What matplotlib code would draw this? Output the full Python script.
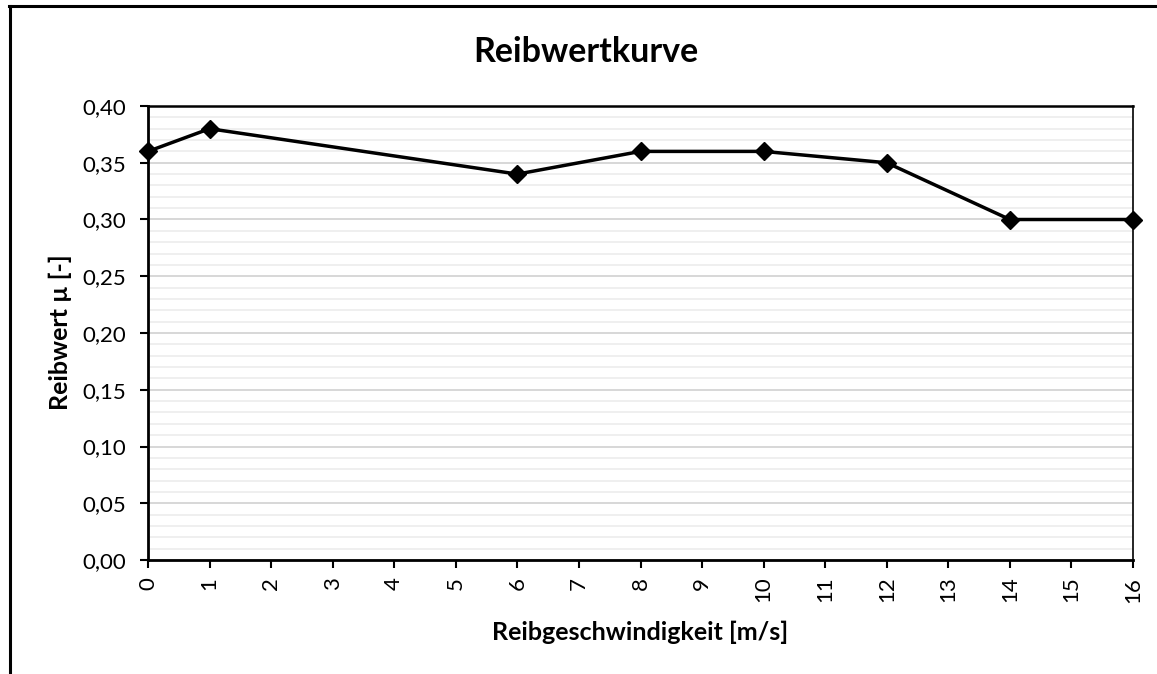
import matplotlib
matplotlib.use("Agg")
import matplotlib.pyplot as plt
from matplotlib.ticker import MultipleLocator, FuncFormatter
from matplotlib.lines import Line2D

speed = [0, 1, 6, 8, 10, 12, 14, 16]
mu = [0.36, 0.38, 0.34, 0.36, 0.36, 0.35, 0.30, 0.30]
x_ticks = list(range(0, 17))

plt.rcParams['font.family'] = ['Lato', 'DejaVu Sans']

fig = plt.figure(figsize=(11.57, 6.74), dpi=100)
ax = fig.add_axes([148/1157, 1-560/674, (1133-148)/1157, (560-106)/674])

ax.set_xlim(0, 16)
ax.set_ylim(0, 0.40)
ax.yaxis.set_major_locator(MultipleLocator(0.05))
ax.yaxis.set_minor_locator(MultipleLocator(0.01))
ax.yaxis.set_major_formatter(FuncFormatter(lambda v, p: f"{v:.2f}".replace('.', ',')))
ax.set_xticks(x_ticks)
ax.set_xticklabels([str(t) for t in x_ticks], rotation=90)

ax.grid(which='minor', axis='y', color='#eeeeee', linewidth=1.3)
ax.grid(which='major', axis='y', color='#d4d4d4', linewidth=1.3)
ax.set_axisbelow(True)

ax.plot(speed, mu, color='black', linewidth=2.5, marker='D', markersize=9,
        clip_on=False, zorder=5)

for s in ['left', 'bottom']:
    ax.spines[s].set_linewidth(2.0)
ax.spines['top'].set_linewidth(1.8)
ax.spines['right'].set_linewidth(1.2)

ax.tick_params(axis='both', which='major', direction='out', length=6, width=1.5,
               labelsize=16)
ax.tick_params(axis='y', which='major', pad=10)
ax.tick_params(axis='x', which='major', pad=6)
ax.tick_params(axis='y', which='minor', length=0)

fig.text(640/1157, 1-632/674, "Reibgeschwindigkeit [m/s]", fontsize=18,
         fontweight='bold', ha='center', va='center')
fig.text(60/1157, 1-332/674, "Reibwert µ [-]", fontsize=18, fontweight='bold',
         ha='center', va='center', rotation=90)
fig.text(586/1157, 1-52/674, "Reibwertkurve", fontsize=24.5, fontweight='bold',
         ha='center', va='center')

fig.add_artist(Line2D([10/1157, 10/1157], [0, 1-6/674], color='black', linewidth=2.2,
                      transform=fig.transFigure))
fig.add_artist(Line2D([9/1157, 1], [1-6/674, 1-6/674], color='black', linewidth=2.2,
                      transform=fig.transFigure))

fig.savefig("out.png", dpi=100)
